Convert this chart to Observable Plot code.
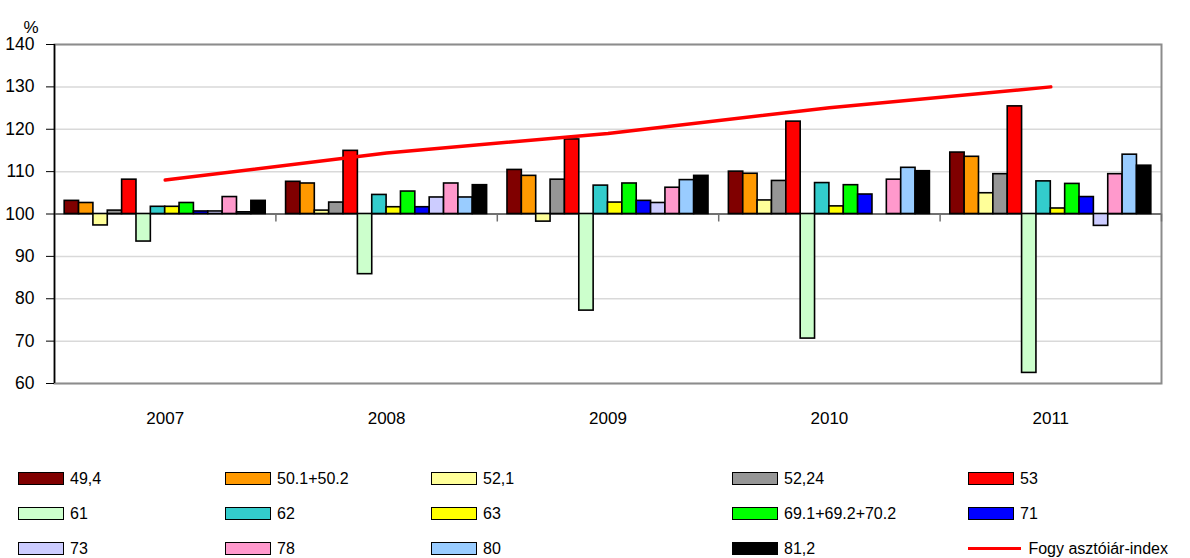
<!DOCTYPE html>
<html>
<head>
<meta charset="utf-8">
<script src="https://cdn.jsdelivr.net/npm/d3@7"></script>
<script src="https://cdn.jsdelivr.net/npm/@observablehq/plot@0.6"></script>
<style>
  html, body { margin: 0; padding: 0; background: #fff; overflow: hidden; }
  body { width: 1190px; height: 558px; font-family: "Liberation Sans", Arial, sans-serif; }
  #legend {
    display: grid;
    grid-template-columns: 207px 206px 301px 236px 200px;
    grid-auto-rows: 35px;
    padding: 21px 0 0 18px;
    height: 97px;
    font-size: 16px;
    color: #000;
  }
  .item { display: flex; align-items: center; white-space: nowrap; }
  .sw { width: 46px; height: 13px; box-sizing: border-box; border: 1.6px solid #000; margin-right: 6px; }
  .ln { width: 54px; height: 3px; background: #ff0000; margin-right: 7px; }
</style>
</head>
<body>
<div id="chart"></div>
<div id="legend"></div>
<script>
const years = ["2007", "2008", "2009", "2010", "2011"];
const series = ["49,4", "50.1+50.2", "52,1", "52,24", "53", "61", "62", "63",
                "69.1+69.2+70.2", "71", "73", "78", "80", "81,2"];
const colors = ["#800000", "#ff9900", "#ffff99", "#969696", "#ff0000", "#ccffcc", "#33cccc",
                "#ffff00", "#00ff00", "#0000ff", "#ccccff", "#ff99cc", "#99ccff", "#000000"];

const s49_4   = [103.1, 107.6, 110.4, 110.0, 114.5];
const s50     = [102.6, 107.2, 109.0, 109.5, 113.5];
const s52_1   = [97.3, 100.8, 98.2, 103.2, 104.9];
const s52_24  = [100.8, 102.7, 108.1, 107.8, 109.4];
const s53     = [108.1, 114.9, 117.6, 121.8, 125.4];
const s61     = [93.5, 85.8, 77.2, 70.6, 62.5];
const s62     = [101.7, 104.5, 106.7, 107.3, 107.7];
const s63     = [101.7, 101.6, 102.7, 101.8, 101.3];
const s69_70  = [102.6, 105.3, 107.2, 106.8, 107.1];
const s71     = [100.6, 101.6, 103.1, 104.6, 104.0];
const s73     = [100.6, 103.9, 102.6, null, 97.2];
const s78     = [104.0, 107.2, 106.2, 108.1, 109.4];
const s80     = [100.4, 103.9, 108.0, 110.9, 114.0];
const s81_2   = [103.1, 106.8, 109.0, 110.1, 111.4];
const cpi     = [108.0, 114.4, 119.0, 125.1, 130.0];
const cpiName = "Fogy asztóiár-index";
const yTicks  = [60, 70, 80, 90, 100, 110, 120, 130, 140];

const values = [s49_4, s50, s52_1, s52_24, s53, s61, s62, s63, s69_70, s71, s73, s78, s80, s81_2];

// build table
const rows = [];
values.forEach((arr, si) => arr.forEach((v, yi) => {
  if (v != null) rows.push({yi, si, series: series[si], value: v});
}));
const cpiRows = cpi.map((v, yi) => ({yi, value: v}));

const groupWidth = 0.908;
const bw = groupWidth / series.length;
const bx1 = d => d.yi - groupWidth / 2 + d.si * bw;
const bx2 = d => d.yi - groupWidth / 2 + (d.si + 1) * bw;
const bounds = d3.range(years.length + 1).map(i => i - 0.5);

const chart = Plot.plot({
  width: 1190,
  height: 440,
  marginLeft: 54,
  marginRight: 29,
  marginTop: 44,
  marginBottom: 57,
  style: {fontFamily: "'Liberation Sans', Arial, sans-serif", fontSize: "16px", color: "#000", background: "#fff"},
  x: {type: "linear", domain: [-0.5, years.length - 0.5]},
  y: {domain: [60, 140]},
  color: {domain: series, range: colors},
  marks: [
    Plot.gridY(yTicks, {stroke: "#d9d9d9", strokeOpacity: 1, strokeWidth: 1.5}),
    Plot.frame({stroke: "#8c8c8c", strokeWidth: 2}),
    Plot.ruleY([100], {stroke: "#707070", strokeWidth: 2}),
    Plot.ruleX(bounds.slice(1), {y1: 100, y2: 100, insetBottom: -8, stroke: "#707070", strokeWidth: 1.5}),
    Plot.rect(rows, {x1: bx1, x2: bx2, y1: 100, y2: "value", fill: "series", stroke: "#000", strokeWidth: 1.6}),
    Plot.ruleX([-0.5], {stroke: "#000", strokeWidth: 1.5}),
    Plot.axisY({ticks: yTicks, tickSize: 8, tickPadding: 12, fontSize: 17.5, label: null, stroke: "#000"}),
    Plot.axisX({ticks: d3.range(years.length), tickFormat: i => years[i], tickSize: 0, tickPadding: 28, fontSize: 17, label: null}),
    Plot.text(["%"], {frameAnchor: "top-left", dx: -31, dy: -24, fontSize: 17, text: d => d}),
    Plot.line(cpiRows, {x: "yi", y: "value", stroke: "#ff0000", strokeWidth: 3.5})
  ]
});
document.getElementById("chart").appendChild(chart);

// legend (5 columns, row-major)
const legend = document.getElementById("legend");
series.forEach((s, i) => {
  const it = document.createElement("div");
  it.className = "item";
  it.innerHTML = `<span class="sw" style="background:${colors[i]}"></span><span>${s}</span>`;
  legend.appendChild(it);
});
const li = document.createElement("div");
li.className = "item";
li.innerHTML = `<span class="ln"></span><span>${cpiName}</span>`;
legend.appendChild(li);
</script>
</body>
</html>
